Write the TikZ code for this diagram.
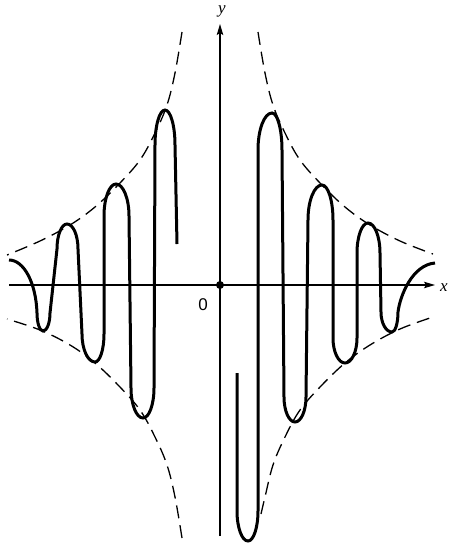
\documentclass[tikz,border=0pt]{standalone}
\usepackage{fontspec}
\setmainfont{Liberation Serif}
\newfontfamily\labsans{Liberation Sans}
\usetikzlibrary{arrows.meta}
\begin{document}
\begin{tikzpicture}[x=1pt,y=-1pt,
  curve/.style={line width=3pt},
  env/.style={line width=1.3pt, dash pattern=on 13pt off 7pt},
  axis/.style={line width=1.1pt, -{Stealth[length=11pt,width=6.5pt,inset=2pt]}},
  lab/.style={font=\itshape\fontsize{17}{17}\selectfont, inner sep=0pt}]
\useasboundingbox (0,0) rectangle (451,547);
% axes
\coordinate (O) at (220,285);
\coordinate (xs) at (9,285);
\coordinate (xe) at (435,285);
\coordinate (ys) at (220,536);
\coordinate (ye) at (220,24);
\draw[axis] (xs) -- (xe);
\draw[axis] (ys) -- (ye);
\node[lab, anchor=base] (ylab) at (222,13) {y};
\node[lab, anchor=base west] (xlab) at (440,291) {x};
\fill (O) circle (4pt);
\node[font=\labsans\fontsize{17}{17}\selectfont, inner sep=0pt, anchor=base] (zero) at (203,310) {0};
% envelopes
\draw[env] plot[smooth, tension=0.6] coordinates {(258,32) (265,73) (273,105) (285,133) (300,160) (321,184) (345,207) (370,225) (400,241) (433,254)};
\draw[env] plot[smooth, tension=0.6] coordinates {(182,32) (175,73) (167,105) (155,133) (140,160) (119,184) (95,207) (70,225) (40,241) (7,255)};
\draw[env] plot[smooth, tension=0.6] coordinates {(261,514) (265,497) (273,465) (285,437) (300,410) (321,386) (345,363) (370,345) (400,329) (433,317)};
\draw[env] plot[smooth, tension=0.6] coordinates {(182,538) (175,497) (167,465) (155,437) (140,410) (119,386) (95,363) (70,345) (40,330) (7,319)};
% left branch of the curve
\draw[curve] (9,260) .. controls (24,260) and (36,283) .. (37,313)
  \foreach \L/\R/\xp/\yp/\hs in {37/50/43/331/-18, 57/78/67/224/25, 82/104/95/362/-28, 104/129/116/184/32, 131/154/143/418/-30, 155/175/165/110/35}
  { -- (\L,{\yp+(\hs)}) .. controls (\L,{\yp+0.448*(\hs)}) and ({\xp-0.552*(\xp-\L)},\yp) .. (\xp,\yp)
       .. controls ({\xp+0.552*(\R-\xp)},\yp) and (\R,{\yp+0.448*(\hs)}) .. (\R,{\yp+(\hs)}) }
  -- (177,244);
% right branch of the curve
\draw[curve] (237,373)
  \foreach \L/\R/\xp/\yp/\hs in {237/258/248/541/-30, 258/282/272/113/37, 284/306/295/422/-25, 308/333/322/185/35, 333/357/345/363/-25, 357/380/368/223/30, 381/398/392/332/-20}
  { -- (\L,{\yp+(\hs)}) .. controls (\L,{\yp+0.448*(\hs)}) and ({\xp-0.552*(\xp-\L)},\yp) .. (\xp,\yp)
       .. controls ({\xp+0.552*(\R-\xp)},\yp) and (\R,{\yp+0.448*(\hs)}) .. (\R,{\yp+(\hs)}) }
  .. controls (400,296) and (412,265) .. (435,263);
\end{tikzpicture}
\end{document}
